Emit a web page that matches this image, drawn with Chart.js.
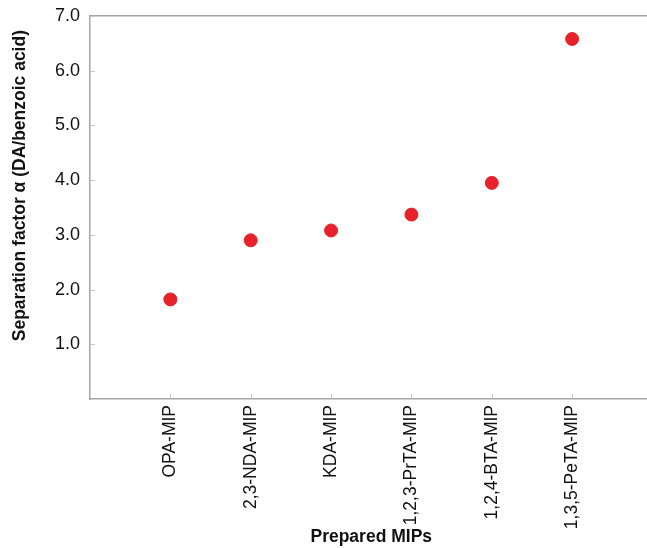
<!DOCTYPE html>
<html>
<head>
<meta charset="utf-8">
<script src="https://cdn.jsdelivr.net/npm/chart.js@4"></script>
<style>
  html, body { margin: 0; padding: 0; background: #fff; overflow: hidden; }
  #wrap { width: 647px; height: 548px; overflow: hidden; }
</style>
</head>
<body>
<div id="wrap"><canvas id="chart" width="660" height="548"></canvas></div>
<script>
// categories and separation factors
const mips = ['OPA-MIP', '2,3-NDA-MIP', 'KDA-MIP', '1,2,3-PrTA-MIP', '1,2,4-BTA-MIP', '1,3,5-PeTA-MIP'];
const alphaValues = [1.82, 2.90, 3.08, 3.37, 3.95, 6.58];
const yTicks = [1, 2, 3, 4, 5, 6, 7];

const FONT = "'Liberation Sans', Arial, Helvetica, sans-serif";
const AXIS = '#a6a6a6';

/** Short tick marks drawn inward from the axes. */
const innerTicks = {
  id: 'innerTicks',
  afterDraw(chart) {
    const { ctx, chartArea: a, scales } = chart;
    ctx.save();
    ctx.strokeStyle = '#c4c4c4';
    ctx.lineWidth = 1;
    ctx.beginPath();
    yTicks.forEach(v => {
      const y = Math.round(scales.y.getPixelForValue(v)) + 0.5;
      ctx.moveTo(a.left, y); ctx.lineTo(a.left + 5, y);
    });
    mips.forEach((m, i) => {
      const x = Math.round(scales.x.getPixelForValue(i + 1)) + 0.5;
      ctx.moveTo(x, a.bottom); ctx.lineTo(x, a.bottom - 5);
    });
    ctx.stroke();
    ctx.restore();
  },
};

new Chart(document.getElementById('chart'), {
  type: 'scatter',
  data: {
    datasets: [{
      label: 'alpha',
      data: alphaValues.map((v, i) => ({ x: i + 1, y: v })),
      backgroundColor: '#e8222b',
      borderColor: '#e8222b',
      pointRadius: 6.5,
      pointHoverRadius: 6.5,
    }],
  },
  options: {
    animation: false, responsive: false,
    layout: { padding: 0 },
    plugins: { legend: { display: false }, tooltip: { enabled: false } },
    scales: {
      x: {
        type: 'linear', min: 0, max: 7,
        afterBuildTicks: s => { s.ticks = mips.map((m, i) => ({ value: i + 1 })); },
        afterFit: s => { s.height = 149; },
        grid: { display: false, drawTicks: false },
        border: { color: AXIS, width: 1.5 },
        ticks: {
          autoSkip: false, minRotation: 90, maxRotation: 90, padding: 6,
          color: '#111', font: { family: FONT, size: 17.5 },
          callback: v => mips[v - 1] || '',
        },
        title: {
          display: true, text: 'Prepared MIPs', color: '#111',
          font: { family: FONT, size: 17.5, weight: 'bold' }, padding: { top: 0, bottom: 0 },
        },
      },
      x2: {
        type: 'linear', position: 'top', min: 0, max: 7,
        afterFit: s => { s.height = 16; },
        grid: { display: false, drawTicks: false },
        border: { color: AXIS, width: 1.5 },
        ticks: { display: false },
      },
      y: {
        min: 0, max: 7,
        afterBuildTicks: s => { s.ticks = [0, ...yTicks].map(v => ({ value: v })); },
        afterFit: s => { s.width = 90; s.paddingTop = 0; s.paddingBottom = 0; },
        grid: { display: false, drawTicks: false },
        border: { color: AXIS, width: 1.5 },
        ticks: {
          padding: 10, color: '#111', font: { family: FONT, size: 18 },
          callback: v => (v === 0 ? '' : v.toFixed(1)),
        },
        title: {
          display: true, text: '         Separation factor α (DA/benzoic acid)', color: '#111',
          font: { family: FONT, size: 17.5, weight: 'bold' }, padding: { top: 10, bottom: 0 },
        },
      },
    },
  },
  plugins: [innerTicks],
});
</script>
</body>
</html>
